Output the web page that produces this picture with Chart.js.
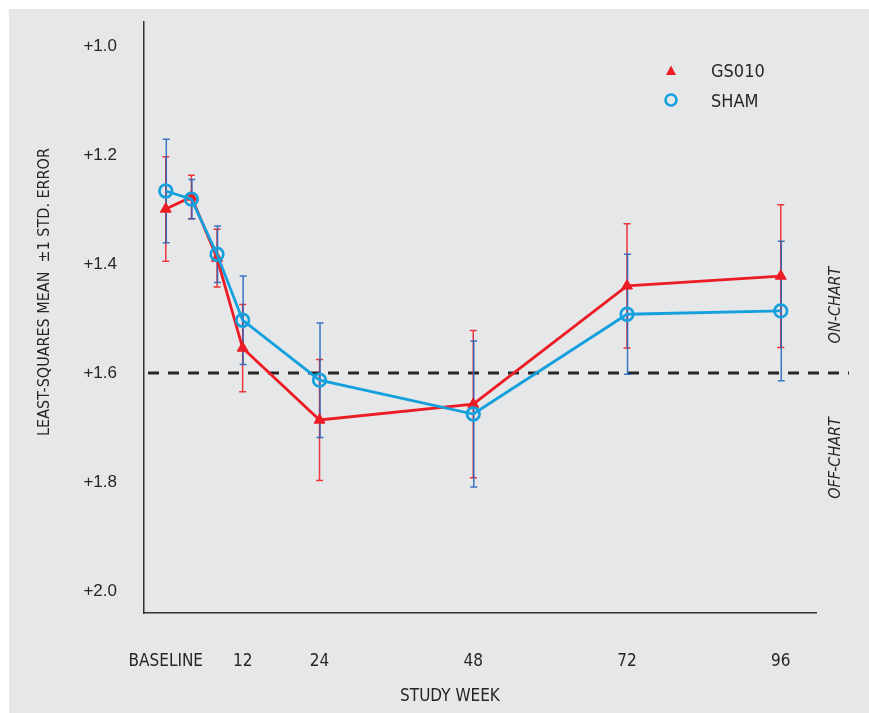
<!DOCTYPE html>
<html><head><meta charset="utf-8">
<script src="https://cdn.jsdelivr.net/npm/chart.js@4.4.1/dist/chart.umd.min.js"></script>
<style>
html,body{margin:0;padding:0;background:#fff;width:869px;height:713px;overflow:hidden;}
#bg{position:absolute;left:9px;top:9px;width:860px;height:704px;background:#e6e7e8;}
#c{position:absolute;left:0;top:0;}
</style></head><body><div id="bg"></div><canvas id="c" width="869" height="713"></canvas>
<script>
// ---- data ----
const weeks = [0, 4, 8, 12, 24, 48, 72, 96];
const gsMean = [1.299, 1.277, 1.389, 1.554, 1.686, 1.657, 1.440, 1.422];
const gsErr  = [0.096, 0.040, 0.053, 0.080, 0.111, 0.135, 0.114, 0.131];
const shamMean = [1.266, 1.281, 1.382, 1.503, 1.613, 1.675, 1.492, 1.486];
const shamErr  = [0.095, 0.036, 0.052, 0.081, 0.105, 0.134, 0.110, 0.128];
const xTickValues = [0, 12, 24, 48, 72, 96];
const xTickLabels = ['BASELINE', '12', '24', '48', '72', '96'];
const yTickValues = [1.0, 1.2, 1.4, 1.6, 1.8, 2.0];
const yTickLabels = ['+1.0', '+1.2', '+1.4', '+1.6', '+1.8', '+2.0'];
const threshold = 1.6;
const seriesNames = ['GS010', 'SHAM'];

const COND = "'Liberation Sans Narrow', 'DejaVu Sans Condensed', 'Roboto Condensed', sans-serif";
const RED = '#ec1c24', BLUE = '#13a0dc';

function drawErr(ctx, x, y, means, errs, color, dx) {
  ctx.save();
  ctx.strokeStyle = color; ctx.lineWidth = 1.5;
  weeks.forEach((w, i) => {
    const px = x.getPixelForValue(w) + dx;
    const t = y.getPixelForValue(means[i] - errs[i]);
    const b = y.getPixelForValue(means[i] + errs[i]);
    ctx.beginPath();
    ctx.moveTo(px, t); ctx.lineTo(px, b);
    ctx.moveTo(px - 3.5, t); ctx.lineTo(px + 3.5, t);
    ctx.moveTo(px - 3.5, b); ctx.lineTo(px + 3.5, b);
    ctx.stroke();
  });
  ctx.restore();
}

const overlay = {
  id: 'overlay',
  beforeDatasetsDraw(chart) {
    const {ctx, scales: {x, y}} = chart;
    ctx.save();
    ctx.strokeStyle = '#262626'; ctx.lineWidth = 3; ctx.setLineDash([11, 9]);
    const yy = y.getPixelForValue(threshold);
    ctx.beginPath(); ctx.moveTo(chart.chartArea.left + 4, yy); ctx.lineTo(849, yy); ctx.stroke();
    ctx.restore();
    drawErr(ctx, x, y, gsMean, gsErr, 'rgba(234,45,52,0.95)', 0);
    drawErr(ctx, x, y, shamMean, shamErr, 'rgba(28,98,190,0.85)', 0.5);
  },
  afterDraw(chart) {
    const ctx = chart.ctx;
    ctx.save();
    ctx.fillStyle = '#262626';
    // y title
    ctx.save();
    ctx.translate(45, 292); ctx.rotate(-Math.PI / 2);
    ctx.font = "16px " + COND; ctx.textAlign = 'center'; ctx.textBaseline = 'middle';
    ctx.fillText('LEAST-SQUARES MEAN  \u00B11 STD. ERROR', 0, 0);
    ctx.restore();
    // x title
    ctx.font = "17px " + COND; ctx.textAlign = 'center'; ctx.textBaseline = 'middle';
    ctx.fillText('STUDY WEEK', 450, 697);
    // side labels
    ctx.font = "italic 16px " + COND;
    [['ON-CHART', 305], ['OFF-CHART', 458]].forEach(([t, cy]) => {
      ctx.save(); ctx.translate(836, cy); ctx.rotate(-Math.PI / 2);
      ctx.fillText(t, 0, 0); ctx.restore();
    });
    // legend
    ctx.fillStyle = RED;
    ctx.beginPath(); ctx.moveTo(671, 65.5); ctx.lineTo(676, 75); ctx.lineTo(666, 75); ctx.closePath(); ctx.fill();
    ctx.strokeStyle = BLUE; ctx.lineWidth = 2.6;
    ctx.beginPath(); ctx.arc(671, 100, 5.5, 0, Math.PI * 2); ctx.stroke();
    ctx.fillStyle = '#262626'; ctx.textAlign = 'left';
    ctx.font = "18px " + COND;
    ctx.fillText(seriesNames[0], 711, 72);
    ctx.fillText(seriesNames[1], 711, 102);
    ctx.restore();
  }
};

new Chart(document.getElementById('c'), {
  type: 'line',
  data: {
    datasets: [
      {
        label: seriesNames[1],
        data: weeks.map((w, i) => ({x: w, y: shamMean[i]})),
        borderColor: BLUE, borderWidth: 2.8, tension: 0,
        pointStyle: 'circle', pointRadius: 6.3, pointBorderWidth: 2.7,
        pointBorderColor: BLUE, pointBackgroundColor: 'rgba(0,0,0,0)', order: 0
      },
      {
        label: seriesNames[0],
        data: weeks.map((w, i) => ({x: w, y: gsMean[i]})),
        borderColor: RED, borderWidth: 2.8, tension: 0,
        pointStyle: 'triangle', pointRadius: 6.3, pointBorderWidth: 1,
        pointBorderColor: RED, pointBackgroundColor: RED, order: 1
      }
    ]
  },
  options: {
    responsive: false, animation: false,
    layout: {autoPadding: false, padding: {top: 22, right: 53, left: 0, bottom: 0}},
    plugins: {legend: {display: false}, tooltip: {enabled: false}},
    scales: {
      x: {
        type: 'linear', min: -3.4, max: 101.5,
        grid: {display: false},
        border: {display: true, color: '#333333', width: 1.5},
        afterBuildTicks(s) { s.ticks = xTickValues.map(v => ({value: v})); },
        afterFit(s) { s.height = 100; s.paddingLeft = 0; s.paddingRight = 0; },
        ticks: {
          padding: 30, autoSkip: false, maxRotation: 0, color: '#262626',
          font: {family: COND, size: 17},
          callback: (v, i) => xTickLabels[i]
        }
      },
      y: {
        reverse: true, min: 0.956, max: 2.04,
        grid: {display: false},
        border: {display: true, color: '#333333', width: 1.5},
        afterBuildTicks(s) { s.ticks = yTickValues.map(v => ({value: v})); },
        afterFit(s) { s.width = 144; s.paddingTop = 0; s.paddingBottom = 0; },
        ticks: {
          padding: 19, color: '#262626',
          font: {family: "'Liberation Sans', Arial, sans-serif", size: 17},
          callback: (v, i) => yTickLabels[i]
        }
      }
    }
  },
  plugins: [overlay]
});
</script></body></html>
